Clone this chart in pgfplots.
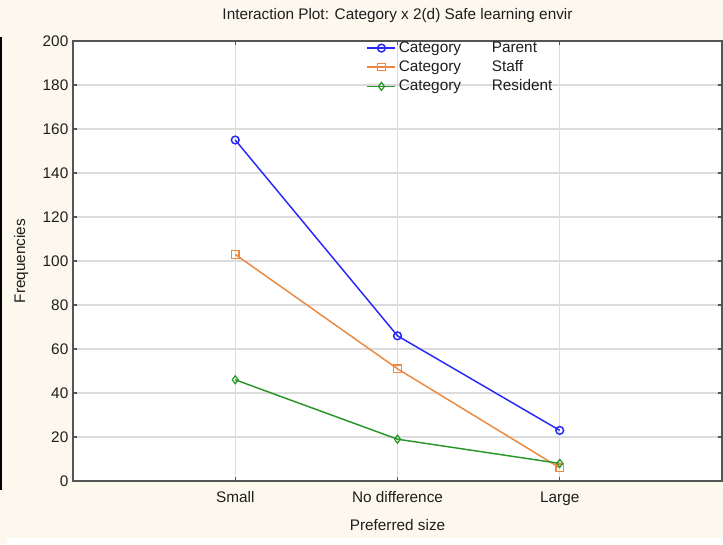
\documentclass[border=0pt]{standalone}
\usepackage{pgfplots}
\pgfplotsset{compat=1.18}
\usepackage{fontspec}
\setmainfont{Liberation Sans}
\definecolor{cream}{RGB}{253,248,237}
\definecolor{pblue}{RGB}{40,40,250}
\definecolor{porange}{RGB}{236,136,64}
\definecolor{pgreen}{RGB}{40,150,40}
\definecolor{axgray}{RGB}{85,85,85}
\definecolor{gridgray}{RGB}{220,220,220}
\definecolor{txt}{RGB}{30,30,30}
\begin{document}
\begin{tikzpicture}
\path[use as bounding box] (-54.75pt,-47.25pt) rectangle (487.5pt,360.75pt);
\fill[cream] (-54.75pt,-47.25pt) rectangle (487.5pt,360.75pt);
\fill[white] (-49.5pt,-47.25pt) rectangle (487.5pt,-42.75pt);
\fill[black] (-54.75pt,-6.75pt) rectangle (-53.5pt,333pt);
\begin{axis}[
  scale only axis,
  width=486.75pt, height=330pt,
  at={(0,0)}, anchor=south west,
  axis background/.style={fill=white},
  xmin=-1, xmax=3, ymin=0, ymax=200,
  xtick={0,1,2},
  xticklabels={Small,No difference,Large},
  ytick distance=20,
  grid=major,
  major grid style={gridgray, line width=0.8pt},
  axis line style={axgray, line width=1.1pt},
  tick style={axgray, line width=0.8pt},
  major tick length=3pt,
  tick align=inside,
  /pgf/number format/assume math mode=true,
  tick label style={font=\fontsize{11.5}{13.5}\selectfont, text=txt},
  xticklabel style={yshift=-4.5pt},
  label style={font=\fontsize{11.5}{13.5}\selectfont, text=txt},
  xlabel={Preferred size},
  ylabel={Frequencies},
  xlabel style={yshift=-3.5pt},
  ylabel style={yshift=4pt},
  title={Interaction Plot: Category x 2(d) Safe learning envir},
  title style={font=\fontsize{11.5}{13}\selectfont, text=txt, yshift=4.5pt},
  legend style={at={(0.45,1.008)}, anchor=north west, draw=none, fill=none,
    font=\fontsize{11.5}{12}\selectfont, text=txt, row sep=0.6pt,
    inner sep=1pt},
  legend cell align=left,
  legend image code/.code={\draw[mark repeat=2,mark phase=2,#1] plot coordinates {(0cm,0cm) (0.37cm,0cm) (0.74cm,0cm)};},
]
\addplot[pblue, line width=1.1pt, mark=o, mark size=2.9pt, mark options={line width=1.1pt}]
  coordinates {(0,155) (1,66) (2,23)};
\addlegendentry{\makebox[69.75pt][l]{Category}Parent}
\addplot[porange, line width=1.1pt, mark=square, mark size=2.8pt, mark options={line width=0.9pt}]
  coordinates {(0,103) (1,51) (2,6)};
\addlegendentry{\makebox[69.75pt][l]{Category}Staff}
\addplot[pgreen, line width=1.1pt, mark=diamond, mark size=3pt, mark options={line width=0.9pt}]
  coordinates {(0,46) (1,19) (2,8)};
\addlegendentry{\makebox[69.75pt][l]{Category}Resident}
\end{axis}
\end{tikzpicture}
\end{document}
